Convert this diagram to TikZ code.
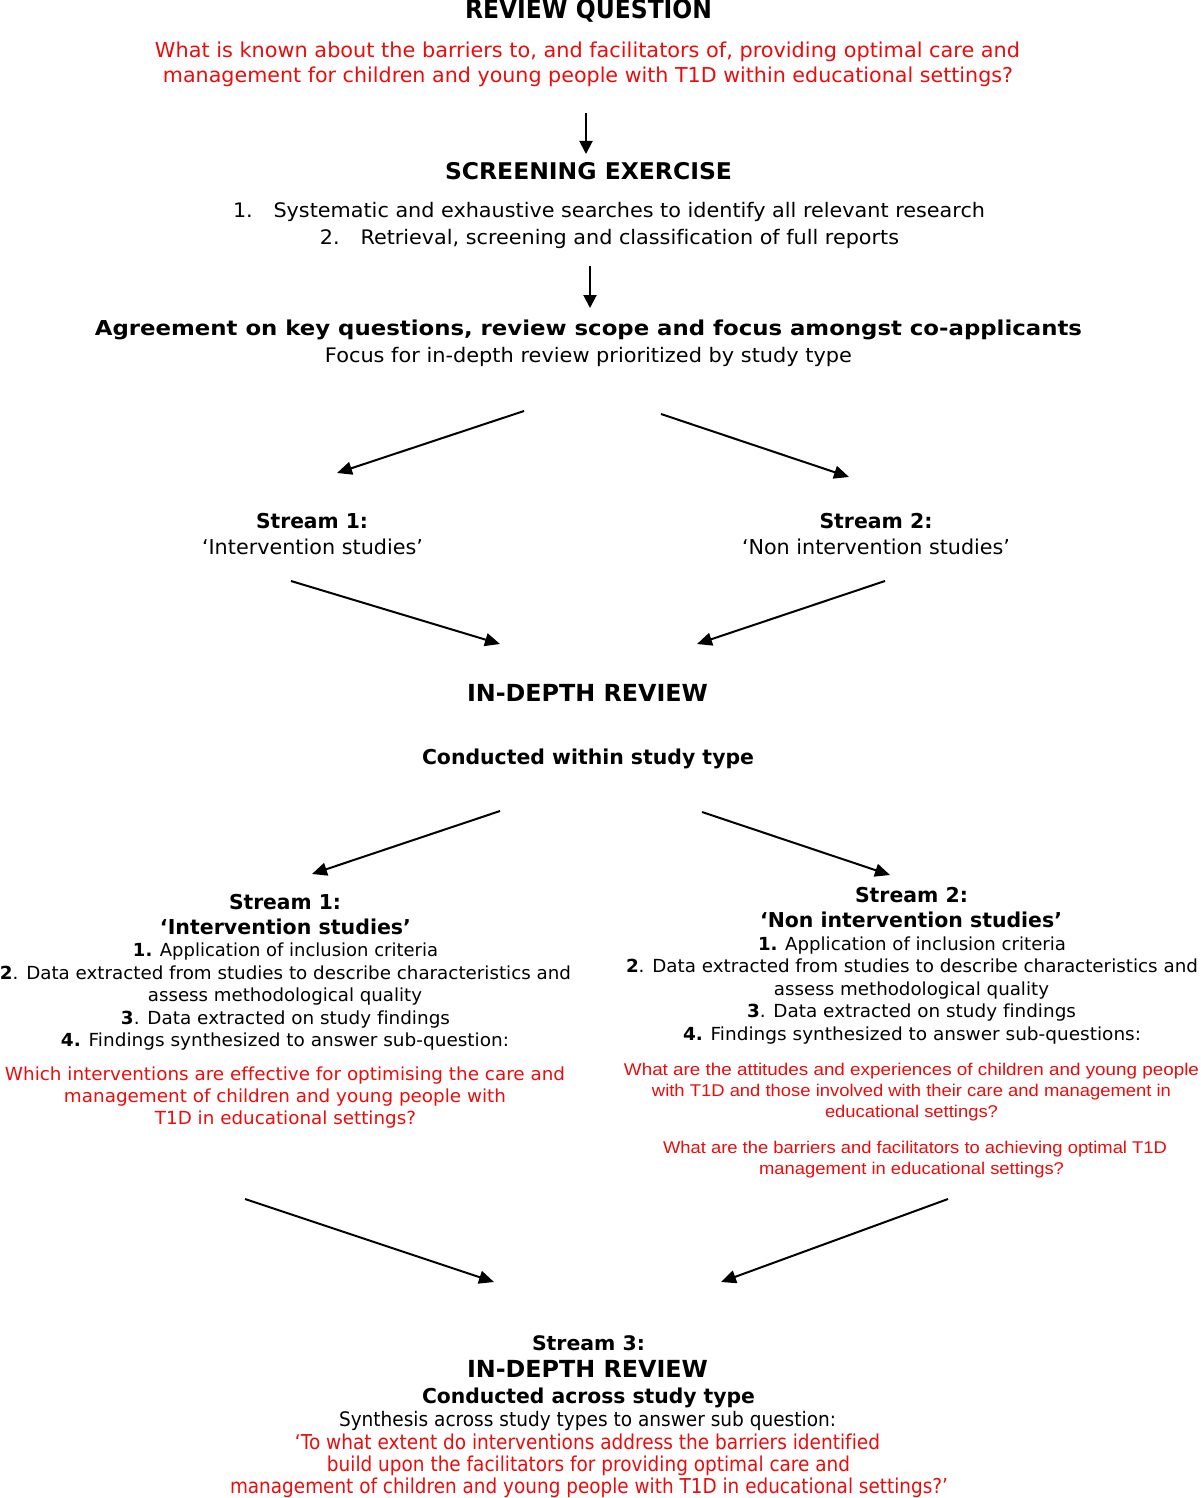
\documentclass[tikz,border=0pt]{standalone}
\usepackage{fontspec}
\usepackage{graphicx}
\setmainfont{DejaVu Sans}[Ligatures=NoCommon]
\newfontfamily\arialf{Liberation Sans}[Ligatures=NoCommon]
\usetikzlibrary{arrows.meta}
\definecolor{qred}{RGB}{235,12,12}
\newcommand\fw[2]{\resizebox{#1pt}{\height}{#2}}
\tikzset{
  t/.style={inner sep=0pt,anchor=base},
  sz/.style={font=\fontsize{#1}{#1}\selectfont},
  red/.style={text=qred},
  arr/.style={line width=2pt,-{Triangle[length=15pt,width=13pt]}},
  varr/.style={line width=2pt,-{Triangle[length=13pt,width=13pt]}}
}
\begin{document}
\begin{tikzpicture}[x=1pt,y=-1pt]
\fill[white] (0,0) rectangle (1200,1498);
\useasboundingbox (0,0) rectangle (1200,1498);

% ---- top ----
\node[t,sz=26] (rq) at (588.5,19) {\fw{247}{\bfseries REVIEW QUESTION}};
\node[t,sz=20.5,red] (q1) at (587.5,58) {\fw{865}{What is known about the barriers to, and facilitators of, providing optimal care and}};
\node[t,sz=20.5,red] (q2) at (588,83) {\fw{850}{management for children and young people with T1D within educational settings?}};

\node[t,sz=23] (se) at (588.5,180) {\fw{287}{\bfseries SCREENING EXERCISE}};
\node[t,sz=20] (s1) at (609,218) {\fw{752}{1.\hspace{20pt}Systematic and exhaustive searches to identify all relevant research}};
\node[t,sz=20] (s2) at (609.5,244) {\fw{579}{2.\hspace{20pt}Retrieval, screening and classification of full reports}};

\node[t,sz=20.5] (ag) at (588.5,335) {\fw{987}{\bfseries Agreement on key questions, review scope and focus amongst co-applicants}};
\node[t,sz=20] (fo) at (588.5,362) {\fw{527}{Focus for in-depth review prioritized by study type}};

% ---- streams (first level) ----
\node[t,sz=20.5] (m1a) at (312,528) {\fw{112}{\bfseries Stream 1:}};
\node[t,sz=20.5] (m1b) at (312.5,554) {\fw{221}{‘Intervention studies’}};
\node[t,sz=20.5] (m2a) at (876,528) {\fw{113}{\bfseries Stream 2:}};
\node[t,sz=20.5] (m2b) at (876,554) {\fw{268}{‘Non intervention studies’}};

\node[t,sz=23.5] (idr) at (587.5,701) {\fw{241}{\bfseries IN-DEPTH REVIEW}};
\node[t,sz=20.5] (cw) at (588,764) {\fw{332}{\bfseries Conducted within study type}};

% ---- left column ----
\node[t,sz=20.5] (l1) at (285,909) {\fw{112}{\bfseries Stream 1:}};
\node[t,sz=20.5] (l2) at (285.5,934) {\fw{251}{\bfseries ‘Intervention studies’}};
\node[t,sz=18] (l3) at (285.5,956) {\fw{305}{\textbf{1.} Application of inclusion criteria}};
\node[t,sz=18] (l4) at (285.5,979) {\fw{571}{\textbf{2}. Data extracted from studies to describe characteristics and}};
\node[t,sz=18] (l5) at (285,1001) {\fw{274}{assess methodological quality}};
\node[t,sz=18] (l6) at (285.5,1024) {\fw{329}{\textbf{3}. Data extracted on study findings}};
\node[t,sz=18] (l7) at (285,1046) {\fw{448}{\textbf{4.} Findings synthesized to answer sub-question:}};
\node[t,sz=18,red] (l8) at (285,1080) {\fw{560}{Which interventions are effective for optimising the care and}};
\node[t,sz=18,red] (l9) at (285,1102) {\fw{442}{management of children and young people with}};
\node[t,sz=18,red] (l10) at (285.5,1124) {\fw{261}{T1D in educational settings?}};

% ---- right column ----
\node[t,sz=20.5] (r1) at (911.5,902) {\fw{113}{\bfseries Stream 2:}};
\node[t,sz=20.5] (r2) at (911,927) {\fw{302}{\bfseries ‘Non intervention studies’}};
\node[t,sz=18] (r3) at (912,950) {\fw{308}{\textbf{1.} Application of inclusion criteria}};
\node[t,sz=18] (r4) at (912,972) {\fw{572}{\textbf{2}. Data extracted from studies to describe characteristics and}};
\node[t,sz=18] (r5) at (911.5,995) {\fw{275}{assess methodological quality}};
\node[t,sz=18] (r6) at (911.5,1017) {\fw{329}{\textbf{3}. Data extracted on study findings}};
\node[t,sz=18] (r7) at (912,1040) {\fw{458}{\textbf{4.} Findings synthesized to answer sub-questions:}};
\node[t,sz=17,red] (r8) at (911.5,1075) {\arialf\fw{575}{What are the attitudes and experiences of children and young people}};
\node[t,sz=17,red] (r9) at (911.5,1096) {\arialf\fw{519}{with T1D and those involved with their care and management in}};
\node[t,sz=17,red] (r10) at (911.5,1117) {\arialf\fw{173}{educational settings?}};
\node[t,sz=17,red] (r11) at (915,1153) {\arialf\fw{504}{What are the barriers and facilitators to achieving optimal T1D}};
\node[t,sz=17,red] (r12) at (911.5,1174) {\arialf\fw{305}{management in educational settings?}};

% ---- bottom ----
\node[t,sz=20] (b1) at (588.5,1350) {\fw{113}{\bfseries Stream 3:}};
\node[t,sz=23.5] (b2) at (587.5,1377) {\fw{241}{\bfseries IN-DEPTH REVIEW}};
\node[t,sz=20.5] (b3) at (588.5,1403) {\fw{333}{\bfseries Conducted across study type}};
\node[t,sz=20] (b4) at (587.5,1426) {\fw{497}{Synthesis across study types to answer sub question:}};
\node[t,sz=20.5,red] (b5) at (587.5,1449) {\fw{585}{‘To what extent do interventions address the barriers identified}};
\node[t,sz=20.5,red] (b6) at (588.5,1471) {\fw{523}{build upon the facilitators for providing optimal care and}};
\node[t,sz=20.5,red] (b7) at (589,1493) {\fw{718}{management of children and young people with T1D in educational settings?’}};

% ---- arrow end points ----
\coordinate (a1s) at (586,113);  \coordinate (a1e) at (586,154);
\coordinate (a2s) at (590,266);  \coordinate (a2e) at (590,308);
\coordinate (a3s) at (524,411);  \coordinate (a3e) at (337,473);
\coordinate (a4s) at (661,414);  \coordinate (a4e) at (849,477);
\coordinate (a5s) at (291,581);  \coordinate (a5e) at (500,644);
\coordinate (a6s) at (885,581);  \coordinate (a6e) at (697,644);
\coordinate (a7s) at (500,811);  \coordinate (a7e) at (312,874);
\coordinate (a8s) at (702,812);  \coordinate (a8e) at (890,875);
\coordinate (a9s) at (245,1199); \coordinate (a9e) at (494,1282);
\coordinate (a10s) at (948,1199); \coordinate (a10e) at (721,1282);

\draw[varr] (a1s) -- (a1e);
\draw[varr] (a2s) -- (a2e);
\foreach \i in {3,...,10} \draw[arr] (a\i s) -- (a\i e);
\end{tikzpicture}
\end{document}
